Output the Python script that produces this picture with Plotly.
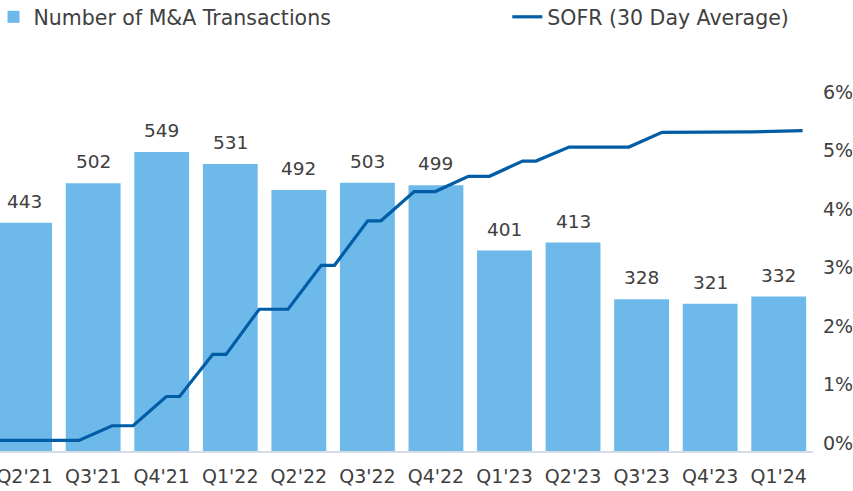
import plotly.graph_objects as go

# ---- data ----
quarters = ["Q2'21", "Q3'21", "Q4'21", "Q1'22", "Q2'22", "Q3'22",
            "Q4'22", "Q1'23", "Q2'23", "Q3'23", "Q4'23", "Q1'24"]
deals = [443, 502, 549, 531, 492, 503, 499, 401, 413, 328, 321, 332]

sofr_dates = ["2022-01-01", "2022-03-17", "2022-04-16", "2022-05-05", "2022-06-04",
              "2022-06-16", "2022-07-16", "2022-07-28", "2022-08-27", "2022-09-22",
              "2022-10-22", "2022-11-03", "2022-12-03", "2022-12-15", "2023-01-14",
              "2023-02-02", "2023-03-04", "2023-03-23", "2023-04-22", "2023-05-04",
              "2023-06-03", "2023-07-27", "2023-08-26", "2023-11-15", "2023-12-31"]
sofr_rate = [0.05, 0.05, 0.30, 0.30, 0.80,
             0.80, 1.52, 1.52, 2.29, 2.29,
             3.04, 3.04, 3.80, 3.80, 4.30,
             4.30, 4.56, 4.56, 4.82, 4.82,
             5.06, 5.06, 5.31, 5.32, 5.34]

pct_ticks = [0, 1, 2, 3, 4, 5, 6]

TEXT = "#404040"
FONT = "DejaVu Sans"

fig = go.Figure()
fig.add_trace(go.Bar(
    x=quarters, y=deals, name="Number of M&A Transactions",
    marker=dict(color="#6DB9E9", line=dict(width=0)),
    legend="legend",
))
fig.add_trace(go.Scatter(
    x=sofr_dates, y=sofr_rate, name="SOFR (30 Day Average)",
    mode="lines", line=dict(color="#005DA6", width=3.2),
    xaxis="x2", yaxis="y2", legend="legend2",
))

annotations = [
    dict(x=q, y=v, xref="x", yref="y", text=str(v), showarrow=False,
         yanchor="bottom", yshift=9, font=dict(size=18.5, color=TEXT, family=FONT))
    for q, v in zip(quarters, deals)
]

fig.update_layout(
    width=853, height=491,
    margin=dict(l=0, r=40, t=92, b=40, autoexpand=False),
    paper_bgcolor="white", plot_bgcolor="white",
    font=dict(family=FONT, color=TEXT, size=19),
    bargap=0.2,
    annotations=annotations,
    xaxis=dict(type="category", range=[-0.359, 11.5], showgrid=False,
               showline=True, linecolor="#D6DCE5", linewidth=1.5,
               ticks="", tickfont=dict(size=19, color=TEXT), zeroline=False,
               ticklabelstandoff=7, automargin=False),
    yaxis=dict(range=[100, 639.2], visible=False, showgrid=False, automargin=False),
    xaxis2=dict(type="date", overlaying="x", anchor="y2", visible=False,
                range=["2022-01-04 17:00", "2024-01-09 10:00"], automargin=False),
    yaxis2=dict(overlaying="y", side="right", anchor="x2", range=[-0.131, 6.0],
                tickvals=pct_ticks, ticktext=[f"{t}%" for t in pct_ticks],
                showgrid=False, zeroline=False, showline=False, ticks="",
                tickfont=dict(size=19, color=TEXT), ticklabelstandoff=9,
                automargin=False),
    legend=dict(orientation="h", x=-0.008, y=1.209, xanchor="left", yanchor="middle",
                font=dict(size=20.5, color=TEXT), bgcolor="rgba(0,0,0,0)"),
    legend2=dict(orientation="h", x=0.624, y=1.209, xanchor="left", yanchor="middle",
                 font=dict(size=20.5, color=TEXT), bgcolor="rgba(0,0,0,0)"),
    showlegend=True,
)

fig.write_html("out.html", config={"displayModeBar": False},
               post_script="document.body.style.margin='0';document.body.style.padding='0';")
